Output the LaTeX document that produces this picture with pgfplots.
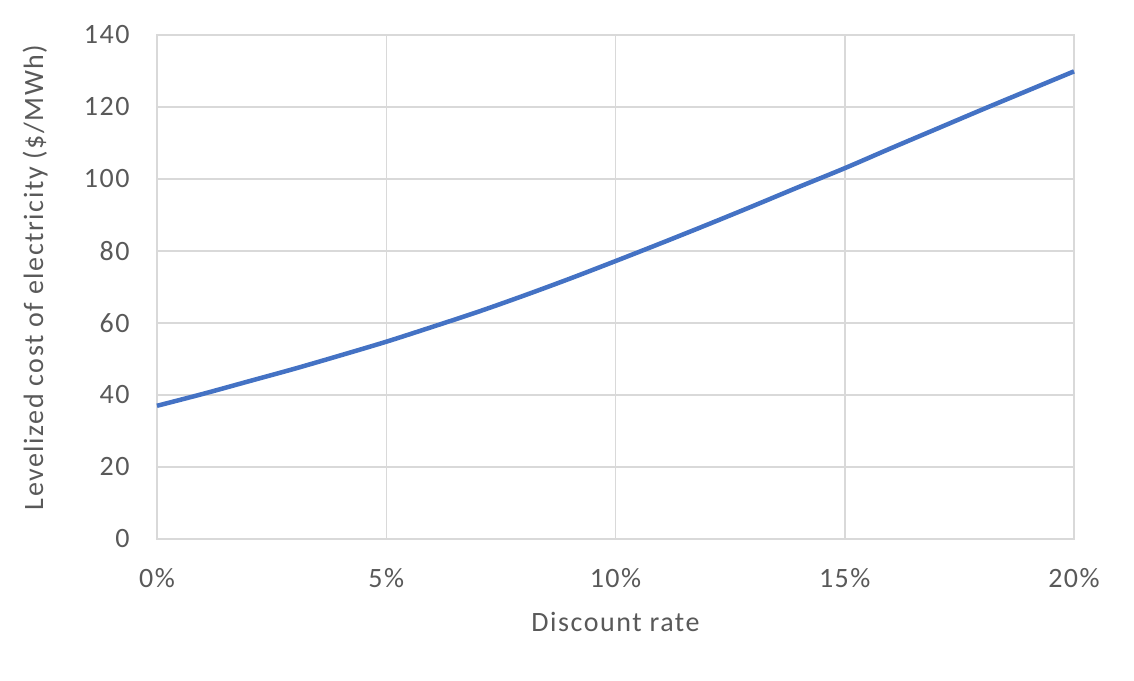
\documentclass[border=0pt]{standalone}
\usepackage{fontspec}
\setmainfont{Carlito}
\newfontfamily\labfont[LetterSpace=5.5]{Carlito}
\usepackage{pgfplots}
\pgfplotsset{compat=1.18}
\definecolor{txt}{HTML}{595959}
\definecolor{grd}{HTML}{D9D9D9}
\definecolor{ln}{HTML}{4472C4}
\begin{document}
\begin{tikzpicture}
\path[use as bounding box] (-78.5pt,-70.5pt) rectangle (488.5pt,269.5pt);
\begin{axis}[
  at={(0,0)}, anchor=south west,
  scale only axis, width=458.5pt, height=252pt,
  xmin=0, xmax=20, ymin=0, ymax=140,
  xtick={0,5,10,15,20},
  xticklabels={0\%,5\%,10\%,15\%,20\%},
  ytick={0,20,...,140},
  grid=major,
  major grid style={grd, line width=0.75pt},
  axis line style={grd, line width=0.9pt},
  tick style={draw=none},
  font=\fontsize{14}{16}\selectfont,
  /pgf/number format/assume math mode=true,
  ticklabel style={text=txt, inner sep=0pt, font=\fontsize{14}{16}\labfont},
  xticklabel style={anchor=center, yshift=-19.5pt},
  yticklabel style={anchor=east, xshift=-13.5pt},
  xlabel={Discount rate},
  ylabel={Levelized cost of electricity (\$/MWh)},
  label style={text=txt, inner sep=0pt, font=\fontsize{14}{16}\labfont},
  xlabel style={at={(axis description cs:0.5,0)}, anchor=center, yshift=-41.5pt},
  ylabel style={at={(axis description cs:-0.1330,0.519)}, anchor=center},
  clip=false,
]
\addplot[ln, line width=2.25pt, smooth] coordinates {
(0,37.0) (1,40.3) (2,43.8) (3,47.3) (4,51.0) (5,54.8) (6,58.9) (7,63.1)
(8,67.6) (9,72.3) (10,77.2) (11,82.2) (12,87.3) (13,92.5) (14,97.8)
(15,103.0) (16,108.5) (17,113.9) (18,119.3) (19,124.6) (20,129.9)
};
\end{axis}
\end{tikzpicture}
\end{document}
